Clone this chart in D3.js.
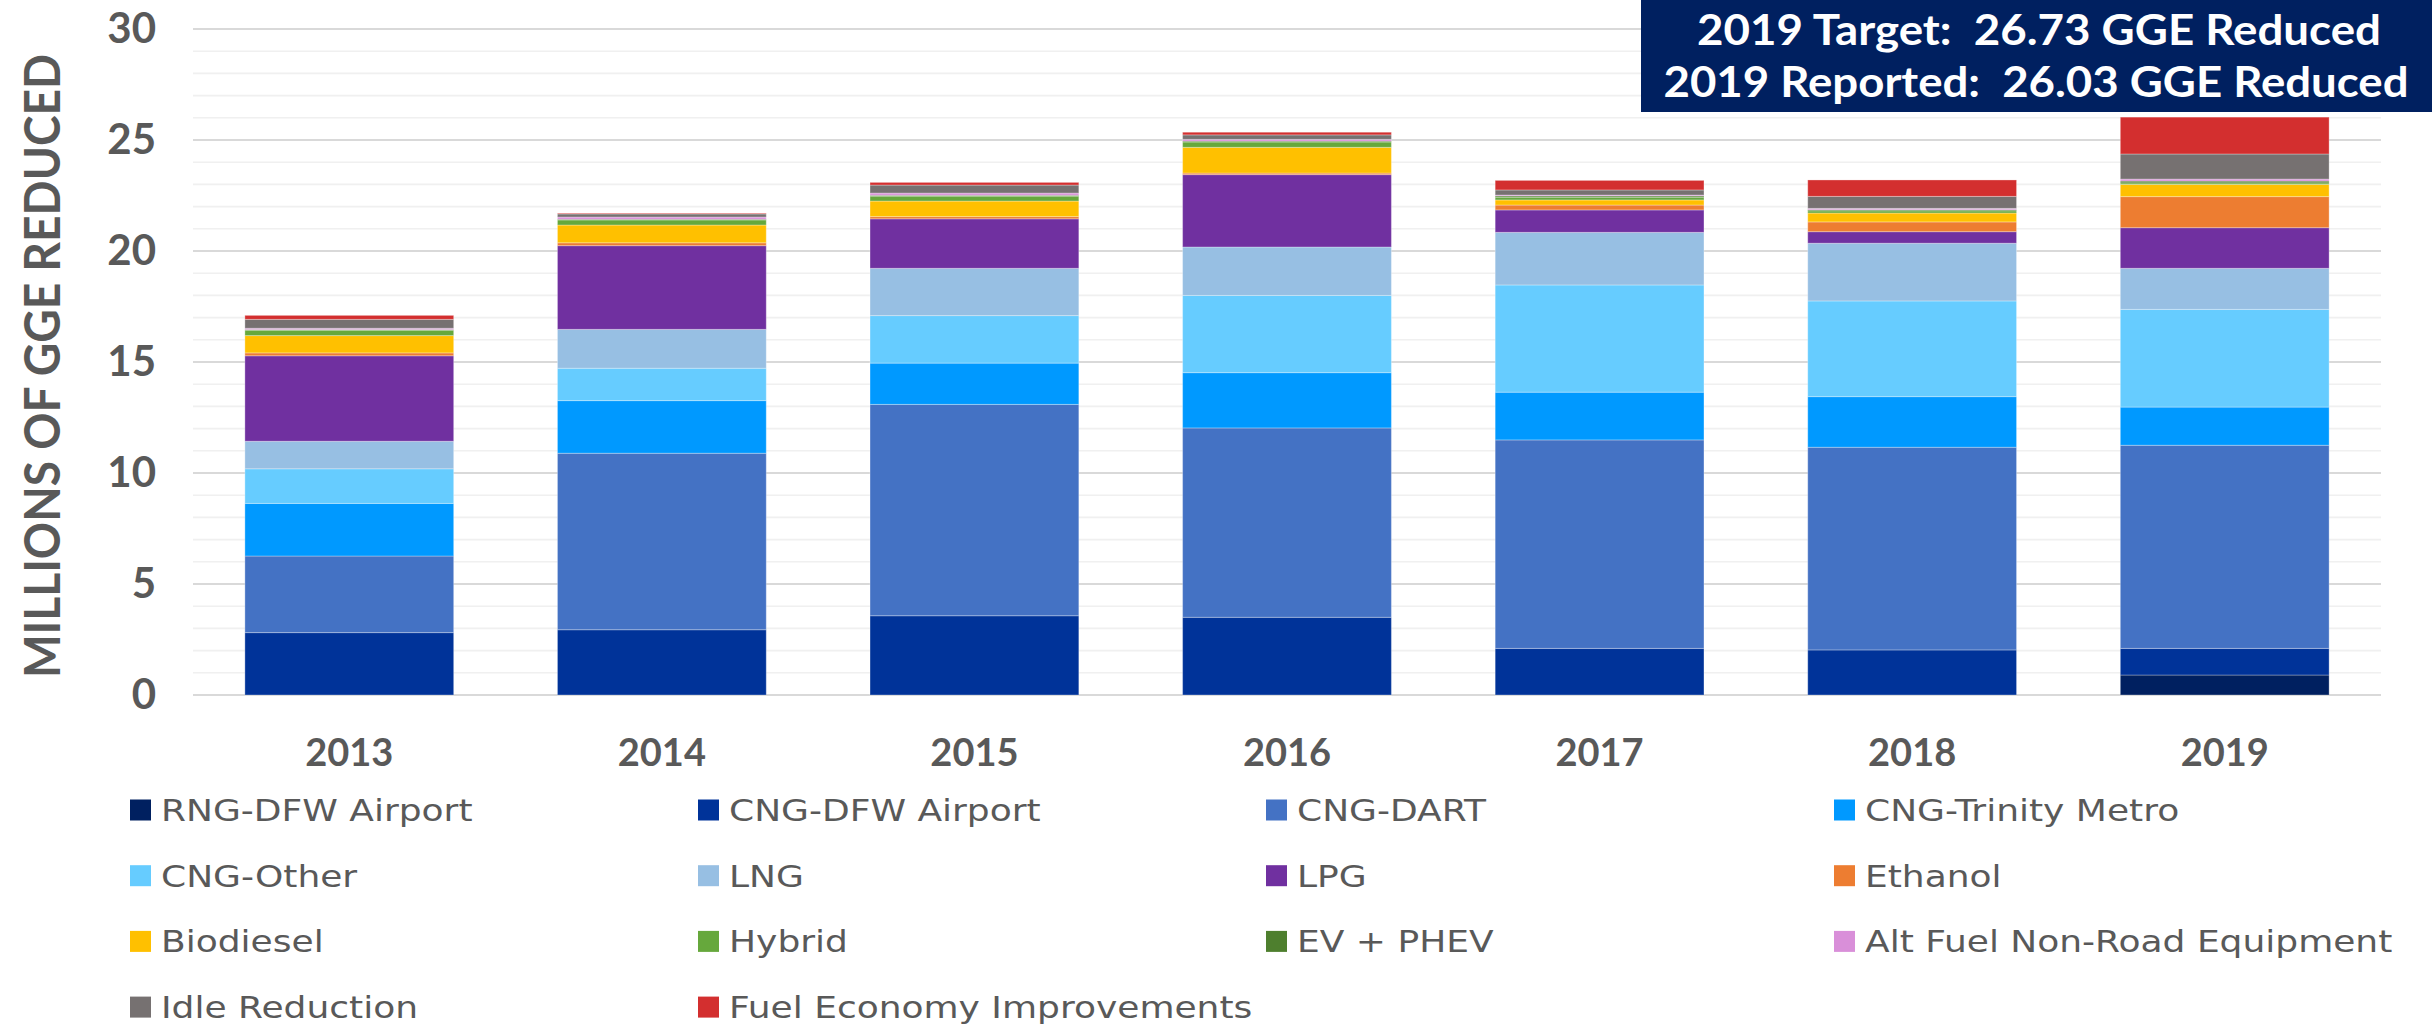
<!DOCTYPE html>
<html>
<head>
<meta charset="utf-8">
<script src="https://cdn.jsdelivr.net/npm/d3@7"></script>
<style>
  body { margin: 0; background: #ffffff; }
  svg { display: block; }
</style>
</head>
<body>
<svg id="chart" width="2432" height="1025"></svg>
<script>
// ---------------- DATA ----------------
const years = ["2013", "2014", "2015", "2016", "2017", "2018", "2019"];

const seriesNames = [
  "RNG-DFW Airport", "CNG-DFW Airport", "CNG-DART", "CNG-Trinity Metro",
  "CNG-Other", "LNG", "LPG", "Ethanol",
  "Biodiesel", "Hybrid", "EV + PHEV", "Alt Fuel Non-Road Equipment",
  "Idle Reduction", "Fuel Economy Improvements"
];

const seriesColors = [
  "#002060", "#003399", "#4472C4", "#0099FF",
  "#66CCFF", "#97BFE3", "#7030A0", "#ED7D31",
  "#FFC000", "#66A83C", "#4E7F2E", "#D98FD9",
  "#767171", "#D32F2F"
];

// millions of GGE reduced, per year 2013..2019
const rngDfwAirport   = [0.00, 0.00, 0.00, 0.00, 0.00, 0.00, 0.90];
const cngDfwAirport   = [2.81, 2.94, 3.57, 3.50, 2.10, 2.03, 1.20];
const cngDart         = [3.45, 7.95, 9.52, 8.53, 9.39, 9.13, 9.15];
const cngTrinityMetro = [2.37, 2.37, 1.86, 2.49, 2.15, 2.28, 1.72];
const cngOther        = [1.56, 1.46, 2.14, 3.48, 4.83, 4.31, 4.40];
const lng             = [1.24, 1.75, 2.13, 2.18, 2.37, 2.60, 1.85];
const lpg             = [3.85, 3.77, 2.23, 3.26, 1.01, 0.52, 1.83];
const ethanol         = [0.13, 0.13, 0.10, 0.07, 0.22, 0.44, 1.40];
const biodiesel       = [0.78, 0.80, 0.70, 1.16, 0.23, 0.40, 0.55];
const hybrid          = [0.24, 0.23, 0.22, 0.24, 0.12, 0.10, 0.07];
const evPhev          = [0.03, 0.03, 0.04, 0.04, 0.06, 0.05, 0.08];
const altFuelNonRoad  = [0.06, 0.10, 0.10, 0.08, 0.04, 0.06, 0.09];
const idleReduction   = [0.40, 0.14, 0.36, 0.20, 0.23, 0.54, 1.13];
const fuelEconomy     = [0.18, 0.03, 0.12, 0.12, 0.43, 0.74, 1.66];

const seriesValues = [
  rngDfwAirport, cngDfwAirport, cngDart, cngTrinityMetro,
  cngOther, lng, lpg, ethanol,
  biodiesel, hybrid, evPhev, altFuelNonRoad,
  idleReduction, fuelEconomy
];

const yTickValues = [0, 5, 10, 15, 20, 25, 30];
const yAxisTitle = "MILLIONS OF GGE REDUCED";
const titleLines = ["2019 Target:  26.73 GGE Reduced", "2019 Reported:  26.03 GGE Reduced"];

// ---------------- BUILD ----------------
const table = years.map((yr, i) => {
  const row = { year: yr };
  seriesNames.forEach((s, k) => { row[s] = seriesValues[k][i]; });
  return row;
});

const svg = d3.select("#chart");

const plotLeft = 193, plotRight = 2381, plotTop = 29, plotBottom = 695;

const x = d3.scaleBand()
  .domain(years)
  .range([plotLeft, plotRight])
  .paddingInner(0.332)
  .paddingOuter(0.166);

const y = d3.scaleLinear()
  .domain([0, 30])
  .range([plotBottom, plotTop]);

const color = d3.scaleOrdinal().domain(seriesNames).range(seriesColors);

// gridlines
const minorTicks = d3.range(0, 31, 1).filter(v => v % 5 !== 0);
svg.append("g").selectAll("line").data(minorTicks).join("line")
  .attr("x1", plotLeft).attr("x2", plotRight)
  .attr("y1", d => y(d)).attr("y2", d => y(d))
  .attr("stroke", "#F0F0F0").attr("stroke-width", 1.6);
svg.append("g").selectAll("line").data(yTickValues).join("line")
  .attr("x1", plotLeft).attr("x2", plotRight)
  .attr("y1", d => y(d)).attr("y2", d => y(d))
  .attr("stroke", "#D9D9D9").attr("stroke-width", 2);

// stacked bars
const stack = d3.stack().keys(seriesNames);
const stacked = stack(table);

svg.append("g").selectAll("g").data(stacked).join("g")
  .attr("fill", d => color(d.key))
  .selectAll("rect").data(d => d.filter(p => p[1] - p[0] > 0)).join("rect")
  .attr("x", d => x(d.data.year))
  .attr("width", x.bandwidth())
  .attr("y", d => y(d[1]))
  .attr("height", d => y(d[0]) - y(d[1]))
  .attr("stroke", "#ffffff")
  .attr("stroke-opacity", 0.3)
  .attr("stroke-width", 1);

// y axis
const yAxis = d3.axisLeft(y).tickValues(yTickValues).tickSize(0).tickPadding(0);
const gy = svg.append("g").attr("transform", `translate(156,0)`).call(yAxis);
gy.select(".domain").remove();
gy.selectAll("text")
  .attr("font-family", "Lato, 'DejaVu Sans', sans-serif")
  .attr("font-weight", "bold")
  .attr("font-size", 42)
  .attr("fill", "#595959");

// x axis
const xAxis = d3.axisBottom(x).tickSize(0).tickPadding(44);
const gx = svg.append("g").attr("transform", `translate(0,${plotBottom})`).call(xAxis);
gx.select(".domain").remove();
gx.selectAll("text")
  .attr("font-family", "Lato, 'DejaVu Sans', sans-serif")
  .attr("font-weight", "bold")
  .attr("font-size", 38)
  .attr("fill", "#595959");

// y axis title
svg.append("text")
  .attr("transform", `translate(60,366) rotate(-90)`)
  .attr("text-anchor", "middle")
  .attr("font-family", "Lato, 'DejaVu Sans', sans-serif")
  .attr("font-weight", "bold")
  .attr("font-size", 49)
  .attr("fill", "#595959")
  .attr("textLength", 624)
  .attr("lengthAdjust", "spacingAndGlyphs")
  .text(yAxisTitle);

// title box
svg.append("rect")
  .attr("x", 1641).attr("y", 0)
  .attr("width", 2432 - 1641).attr("height", 112)
  .attr("fill", "#002060");
const titleCfg = [{ cx: 2039, base: 45, len: 684 }, { cx: 2036, base: 97, len: 745 }];
svg.append("g").selectAll("text").data(titleLines).join("text")
  .attr("x", (d, i) => titleCfg[i].cx)
  .attr("y", (d, i) => titleCfg[i].base)
  .attr("text-anchor", "middle")
  .attr("font-family", "Lato, 'DejaVu Sans', sans-serif")
  .attr("font-weight", "bold")
  .attr("font-size", 42)
  .attr("fill", "#ffffff")
  .style("white-space", "pre")
  .attr("textLength", (d, i) => titleCfg[i].len)
  .attr("lengthAdjust", "spacingAndGlyphs")
  .text(d => d);

// legend
const legCols = 4, legX0 = 130, legColW = 568, legY0 = 810, legRowH = 65.7;
const leg = svg.append("g").selectAll("g").data(seriesNames).join("g")
  .attr("transform", (d, i) => `translate(${legX0 + (i % legCols) * legColW},${legY0 + Math.floor(i / legCols) * legRowH})`);
leg.append("rect")
  .attr("x", 0).attr("y", -10.5)
  .attr("width", 21).attr("height", 21)
  .attr("fill", d => color(d));
const legText = leg.append("text")
  .attr("x", 31).attr("y", 11)
  .attr("font-family", "'DejaVu Sans', sans-serif")
  .attr("font-size", 30)
  .attr("fill", "#595959")
  .text(d => d);
// widen legend labels to match the wide geometric face of the original
legText.each(function () {
  const w = this.getComputedTextLength();
  d3.select(this).attr("textLength", w * 1.2).attr("lengthAdjust", "spacingAndGlyphs");
});
</script>
</body>
</html>
